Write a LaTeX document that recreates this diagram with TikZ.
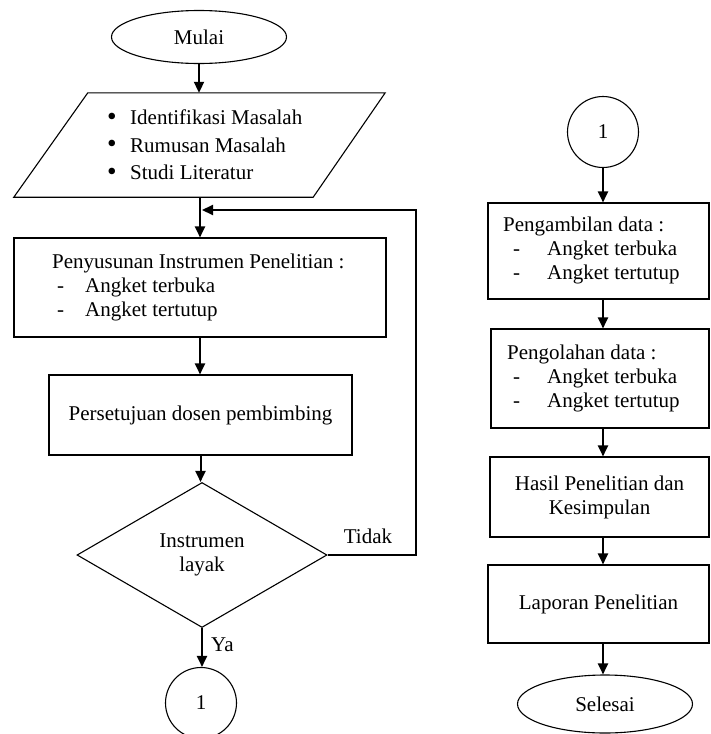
\documentclass[tikz,border=0pt]{standalone}
\usepackage{fontspec}
\setmainfont{Liberation Serif}
\usetikzlibrary{shapes.geometric,arrows.meta}
\newcommand{\bigbul}{\raisebox{-0.5pt}{\scalebox{1.3}{\textbullet}}}
\begin{document}
\begin{tikzpicture}[x=1pt,y=-1pt,
  every node/.style={font=\fontsize{21}{24}\selectfont, inner sep=0pt},
  shp/.style={draw, line width=1.1pt},
  boxx/.style={shp, rectangle},
  term/.style={shp, ellipse},
  conn/.style={shp, circle, minimum size=71pt},
  txt/.style={align=left, anchor=west},
  arr/.style={line width=2pt, -{Triangle[width=10pt,length=11pt]}}]
\useasboundingbox (0,0) rectangle (710,734);

% left column
\node[term, minimum width=175pt, minimum height=53pt] (mulai) at (199,37) {Mulai};
\node[minimum width=371pt, minimum height=104pt] (para) at (199.5,145) {};
\draw[line width=1.1pt] (para.south west) -- ([xshift=74pt]para.north west) -- (para.north east) -- ([xshift=-72pt]para.south east) -- cycle;
\node[txt, align=left] (paratext) at (107,145) {\makebox[23pt][l]{\bigbul}Identifikasi Masalah\\[3.5pt]\makebox[23pt][l]{\bigbul}Rumusan Masalah\\[3.5pt]\makebox[23pt][l]{\bigbul}Studi Literatur};

\node[boxx, minimum width=372pt, minimum height=99pt] (box1) at (200,287.5) {};
\node[txt] (box1text) at (52,287) {Penyusunan Instrumen Penelitian :\\\hspace{5pt}\makebox[28pt][l]{-}Angket terbuka\\\hspace{5pt}\makebox[28pt][l]{-}Angket tertutup};

\node[boxx, minimum width=303pt, minimum height=80pt] (box2) at (200.5,415) {Persetujuan dosen pembimbing};

\node[shp, diamond, minimum width=250pt, minimum height=145pt, align=center] (dia) at (202,555) {Instrumen\\layak};

\node[conn] (c1) at (201,703) {1};

\node (tidak) at (368,536) {Tidak};
\node[anchor=west] (ya) at (211,645) {Ya};

\coordinate (fbcorner) at (416,210);
\coordinate (fbend) at (202,210);

\draw[arr] (mulai.south) -- (mulai.south |- para.north);
\draw[arr] (para.south -| box1.north) -- (box1.north);
\draw[arr] (box1.south) -- (box1.south |- box2.north);
\draw[arr] (box2.south) -- (box2.south |- dia.north);
\draw[arr] (dia.south) -- (dia.south |- c1.north);
\draw[arr] (dia.east) -- (dia.east -| fbcorner) -- (fbcorner) -- (fbend);

% right column
\node[conn] (c2) at (603,132) {1};

\node[boxx, minimum width=221pt, minimum height=96pt] (r1) at (598.5,251) {};
\node[txt] (r1text) at (503,250) {Pengambilan data :\\\hspace{10pt}\makebox[34pt][l]{-}Angket terbuka\\\hspace{10pt}\makebox[34pt][l]{-}Angket tertutup};

\node[boxx, minimum width=218pt, minimum height=99pt] (r2) at (600,378.5) {};
\node[txt] (r2text) at (507,378) {Pengolahan data :\\\hspace{6pt}\makebox[34pt][l]{-}Angket terbuka\\\hspace{6pt}\makebox[34pt][l]{-}Angket tertutup};

\node[boxx, minimum width=219pt, minimum height=80pt, align=center] (r3) at (599.5,497) {Hasil Penelitian dan\\Kesimpulan};

\node[boxx, minimum width=221pt, minimum height=78pt] (r4) at (598.5,604) {Laporan Penelitian};

\node[term, minimum width=175pt, minimum height=58pt] (selesai) at (605,704) {Selesai};

\draw[arr] (c2.south) -- (c2.south |- r1.north);
\draw[arr] (r1.south -| c2.south) -- (c2.south |- r2.north);
\draw[arr] (r2.south -| c2.south) -- (c2.south |- r3.north);
\draw[arr] (r3.south -| c2.south) -- (c2.south |- r4.north);
\draw[arr] (r4.south -| c2.south) -- (c2.south |- selesai.north);
\end{tikzpicture}
\end{document}
